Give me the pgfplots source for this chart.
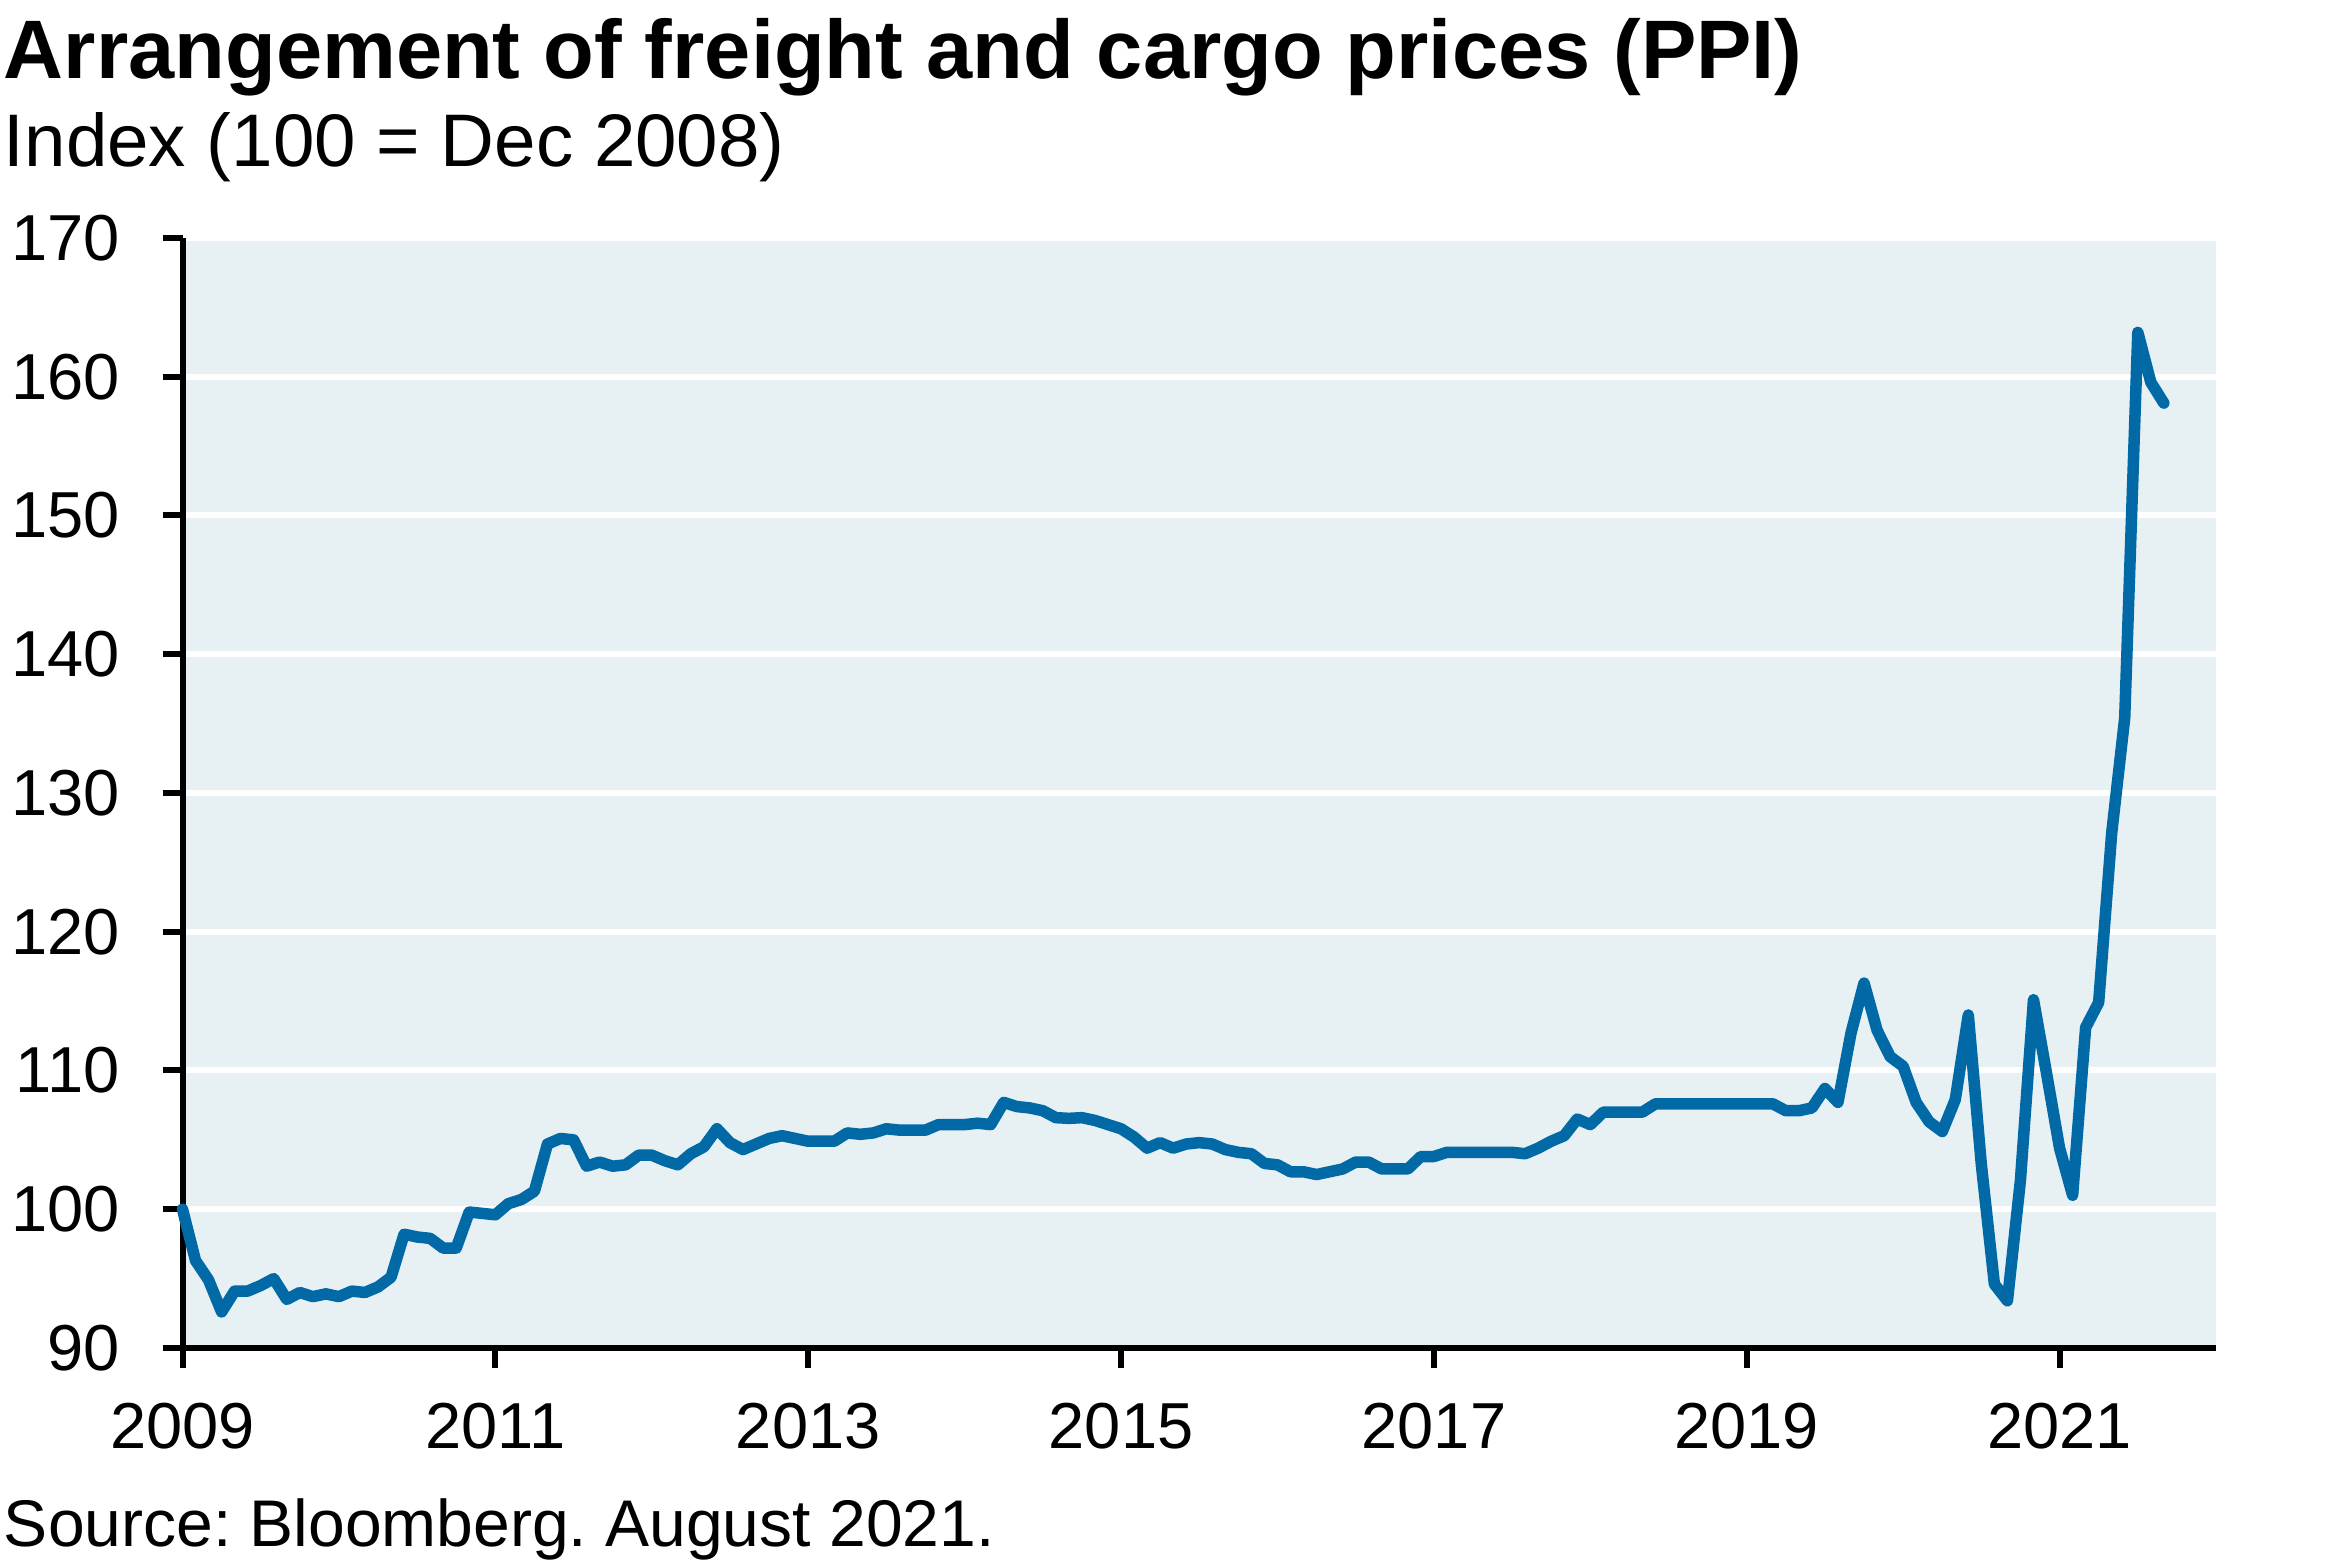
\documentclass[border=0pt]{standalone}
\usepackage{fontspec}
\setmainfont{Liberation Sans}
\usepackage{pgfplots}
\usepackage{pgfplotstable}
\pgfplotsset{compat=1.18}
\frenchspacing

\definecolor{bgpanel}{RGB}{231,240,243}
\definecolor{ppiblue}{RGB}{0,105,166}

% month index (0 = Dec 2008, plotted at 2009.0), index value
\pgfplotstableread{
m v
0 100.0
1 96.3
2 94.9
3 92.6
4 94.1
5 94.1
6 94.5
7 95.0
8 93.5
9 94.0
10 93.7
11 93.9
12 93.7
13 94.1
14 94.0
15 94.4
16 95.1
17 98.2
18 98.0
19 97.9
20 97.2
21 97.2
22 99.8
23 99.7
24 99.6
25 100.4
26 100.7
27 101.3
28 104.7
29 105.1
30 105.0
31 103.1
32 103.4
33 103.1
34 103.2
35 103.9
36 103.9
37 103.5
38 103.2
39 104.0
40 104.5
41 105.8
42 104.8
43 104.3
44 104.7
45 105.1
46 105.3
47 105.1
48 104.9
49 104.9
50 104.9
51 105.5
52 105.4
53 105.5
54 105.8
55 105.7
56 105.7
57 105.7
58 106.1
59 106.1
60 106.1
61 106.2
62 106.1
63 107.7
64 107.4
65 107.3
66 107.1
67 106.6
68 106.55
69 106.6
70 106.4
71 106.1
72 105.8
73 105.2
74 104.4
75 104.8
76 104.4
77 104.7
78 104.8
79 104.7
80 104.3
81 104.1
82 104.0
83 103.3
84 103.2
85 102.7
86 102.7
87 102.5
88 102.7
89 102.9
90 103.4
91 103.4
92 102.9
93 102.9
94 102.9
95 103.8
96 103.8
97 104.1
98 104.1
99 104.1
100 104.1
101 104.1
102 104.1
103 104.0
104 104.4
105 104.9
106 105.3
107 106.5
108 106.1
109 107.0
110 107.0
111 107.0
112 107.0
113 107.6
114 107.6
115 107.6
116 107.6
117 107.6
118 107.6
119 107.6
120 107.6
121 107.6
122 107.6
123 107.1
124 107.1
125 107.3
126 108.7
127 107.7
128 112.7
129 116.3
130 112.9
131 111.0
132 110.3
133 107.7
134 106.3
135 105.6
136 107.9
137 114.0
138 103.2
139 94.6
140 93.4
141 102.1
142 115.1
143 109.8
144 104.4
145 101.0
146 113.1
147 114.9
148 127.1
149 135.4
150 163.2
151 159.6
152 158.1
}\ppidata

\begin{document}
\begin{tikzpicture}
\begin{axis}[
  at={(36.5pt,42.6pt)}, anchor=south west,
  scale only axis, width=406.7pt, height=222pt,
  xmin=2009, xmax=2022, ymin=90, ymax=170,
  axis x line=bottom, axis y line=left,
  axis line style={-, line width=1.2pt, black},
  axis background/.style={fill=bgpanel},
  xtick={2009,2011,2013,2015,2017,2019,2021},
  ytick={90,100,...,170},
  tick align=outside, major tick length=4pt,
  tick style={line width=1.2pt, black},
  ymajorgrids, grid style={white, line width=1.2pt},
  /pgf/number format/1000 sep={},
  /pgf/number format/assume math mode=true,
  ticklabel style={font=\fontsize{13}{15}\selectfont, inner sep=0pt},
  xticklabel style={yshift=-6.8pt},
  yticklabel style={xshift=-8.4pt},
  clip=false,
]
\addplot[ppiblue, line width=2.3pt, line join=round, line cap=round]
  table[x expr={2009+\thisrow{m}/12}, y=v] {\ppidata};
\end{axis}
\node[anchor=base west, inner sep=0pt, font=\bfseries\fontsize{16.6}{18}\selectfont]
  at (0.6pt,296.4pt) {Arrangement of freight and cargo prices (PPI)};
\node[anchor=base west, inner sep=0pt, font=\fontsize{14.9}{17}\selectfont]
  at (0.6pt,278.9pt) {Index (100 = Dec 2008)};
\node[anchor=base west, inner sep=0pt, font=\fontsize{13.2}{15}\selectfont]
  at (0.6pt,2.9pt) {Source: Bloomberg. August 2021.};
\pgfresetboundingbox
\useasboundingbox (0,0) rectangle (468.2pt,312.2pt);
\end{tikzpicture}
\end{document}
